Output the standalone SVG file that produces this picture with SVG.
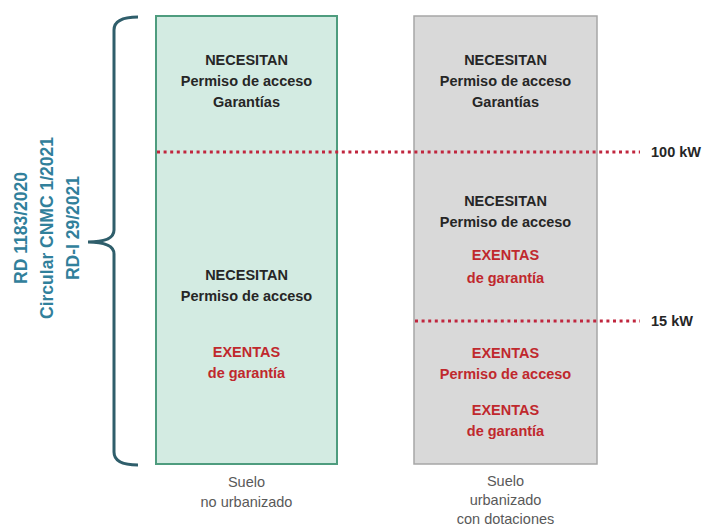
<svg xmlns="http://www.w3.org/2000/svg" width="706" height="529" viewBox="0 0 706 529">
  <style>
    .b { font-family: "Liberation Sans", Arial, sans-serif; font-weight: 700; font-size: 14.5px; text-anchor: middle; fill: #262626; }
    .r { fill: #C0282D; }
    .cap { font-family: "Liberation Sans", Arial, sans-serif; font-size: 14.5px; text-anchor: middle; fill: #595959; }
    .law { font-family: "Liberation Sans", Arial, sans-serif; font-weight: 700; font-size: 17.5px; text-anchor: middle; fill: #31809B; }
    .kw { font-family: "Liberation Sans", Arial, sans-serif; font-weight: 700; font-size: 14.5px; fill: #262626; }
    .dot { fill: none; stroke: #C0263E; stroke-width: 3; stroke-dasharray: 3 3.6; }
  </style>
  <rect width="706" height="529" fill="#FFFFFF"/>

  <g id="box-no-urbanizado">
    <rect x="156" y="16" width="181" height="448" fill="#D3EBE2" stroke="#4E9C7E" stroke-width="2"/>
    <text class="b" x="246.5" y="65">NECESITAN</text>
    <text class="b" x="246.5" y="86">Permiso de acceso</text>
    <text class="b" x="246.5" y="107">Garantías</text>
    <text class="b" x="246.5" y="280">NECESITAN</text>
    <text class="b" x="246.5" y="301">Permiso de acceso</text>
    <text class="b r" x="246.5" y="357">EXENTAS</text>
    <text class="b r" x="246.5" y="378">de garantía</text>
  </g>

  <g id="box-urbanizado">
    <rect x="414" y="16" width="183" height="448" fill="#D9D9D9" stroke="#A6A6A6" stroke-width="1.5"/>
    <text class="b" x="505.5" y="65">NECESITAN</text>
    <text class="b" x="505.5" y="86">Permiso de acceso</text>
    <text class="b" x="505.5" y="107">Garantías</text>
    <text class="b" x="505.5" y="206">NECESITAN</text>
    <text class="b" x="505.5" y="227">Permiso de acceso</text>
    <text class="b r" x="505.5" y="260">EXENTAS</text>
    <text class="b r" x="505.5" y="283">de garantía</text>
    <text class="b r" x="505.5" y="358">EXENTAS</text>
    <text class="b r" x="505.5" y="379">Permiso de acceso</text>
    <text class="b r" x="505.5" y="415">EXENTAS</text>
    <text class="b r" x="505.5" y="436">de garantía</text>
  </g>

  <g id="captions">
    <text class="cap" x="246.5" y="487">Suelo</text>
    <text class="cap" x="246.5" y="507">no urbanizado</text>
    <text class="cap" x="505.5" y="486">Suelo</text>
    <text class="cap" x="505.5" y="505">urbanizado</text>
    <text class="cap" x="505.5" y="524">con dotaciones</text>
  </g>

  <g id="connectors">
    <line class="dot" x1="157" y1="152" x2="640" y2="152"/>
    <line class="dot" x1="415" y1="321" x2="640" y2="321"/>
  </g>

  <g id="thresholds">
    <text class="kw" x="651" y="157">100 kW</text>
    <text class="kw" x="651" y="326">15 kW</text>
  </g>

  <g id="brace">
    <path d="M138,17 Q114,17 114,30 L114,230 Q114,242 88,242 Q114,242 114,254 L114,452 Q114,465 138,465" fill="none" stroke="#2F5E6B" stroke-width="3"/>
  </g>

  <g id="legislation">
    <text class="law" transform="translate(27,228) rotate(-90)">RD 1183/2020</text>
    <text class="law" transform="translate(53,228) rotate(-90)">Circular CNMC 1/2021</text>
    <text class="law" transform="translate(79,228) rotate(-90)">RD-I 29/2021</text>
  </g>
</svg>
